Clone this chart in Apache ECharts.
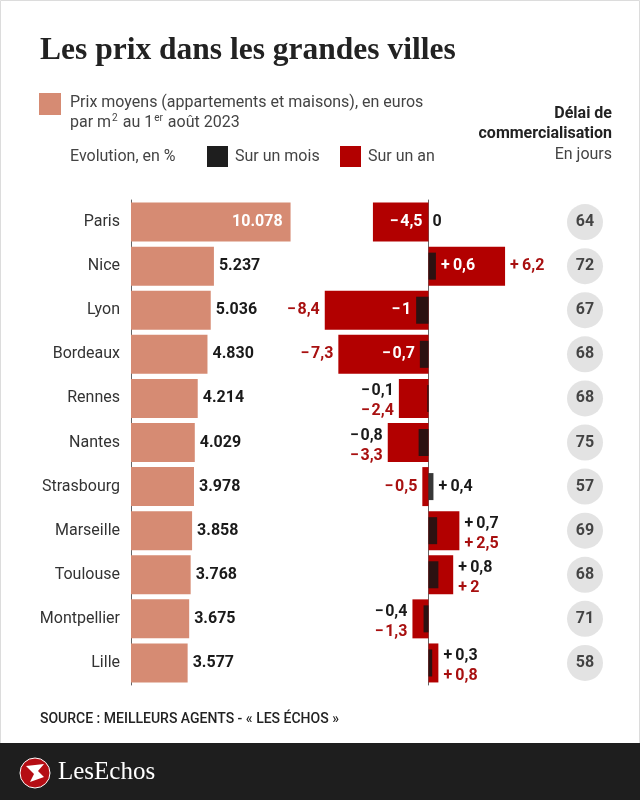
<!DOCTYPE html>
<html>
<head>
<meta charset="utf-8">
<script src="https://cdn.jsdelivr.net/npm/echarts@6/dist/echarts.min.js"></script>
<style>
  html, body { margin: 0; padding: 0; background: #fff; }
  #chart { width: 640px; height: 800px; }
</style>
</head>
<body>
<div id="chart"></div>
<script>
// data
const cities = ['Paris', 'Nice', 'Lyon', 'Bordeaux', 'Rennes', 'Nantes', 'Strasbourg', 'Marseille', 'Toulouse', 'Montpellier', 'Lille'];
const prices = [10078, 5237, 5036, 4830, 4214, 4029, 3978, 3858, 3768, 3675, 3577];
const monthChange = [0, 0.6, -1, -0.7, -0.1, -0.8, 0.4, 0.7, 0.8, -0.4, 0.3];
const yearChange = [-4.5, 6.2, -8.4, -7.3, -2.4, -3.3, -0.5, 2.5, 2, -1.3, 0.8];
const days = [64, 72, 67, 68, 68, 75, 57, 69, 68, 71, 58];

const FONT = 'Roboto, "Noto Sans", sans-serif';
const SALMON = '#d68b73';
const RED = '#b20000';
const RED_TXT = '#a81010';
const DARK = '#1a1a1a';

const fmtPrice = v => String(v).replace(/\B(?=(\d{3})+(?!\d))/g, '.');
const fmtPct = v => v === 0 ? '0' : (v > 0 ? '+\u2009' : '\u2212\u200a') + String(Math.abs(v)).replace('.', ',');

// where the two change labels go, depending on bar sizes and signs
function labelMode(m, y) {
    if (Math.abs(y) >= 4) return m === 0 ? 'yearInside' : 'monthInside';
    if (m * y < 0) return 'split';
    return 'stack';
}

const yearData = yearChange.map((y, i) => {
    const m = monthChange[i];
    const mode = labelMode(m, y);
    const side = y < 0 ? 'left' : 'right';
    let label;
    if (mode === 'yearInside') {
        label = { show: true, position: y < 0 ? 'insideRight' : 'insideLeft', color: '#fff', formatter: fmtPct(y), distance: 6 };
    } else if (mode === 'stack') {
        label = {
            show: true, position: side, distance: 5, offset: [0, 3],
            align: y < 0 ? 'right' : 'left',
            formatter: '{m|' + fmtPct(m) + '}\n{y|' + fmtPct(y) + '}',
            rich: {
                m: { color: DARK, fontFamily: FONT, fontWeight: 'bold', fontSize: 16, lineHeight: 20 },
                y: { color: RED_TXT, fontFamily: FONT, fontWeight: 'bold', fontSize: 16, lineHeight: 20 }
            }
        };
    } else {
        label = { show: true, position: side, color: RED_TXT, formatter: fmtPct(y), distance: 5 };
    }
    return { value: y, label: label };
});

const monthData = monthChange.map((m, i) => {
    const y = yearChange[i];
    const mode = labelMode(m, y);
    let label = { show: false };
    if (mode === 'yearInside') {
        label = { show: true, position: y < 0 ? 'right' : 'left', color: DARK, formatter: fmtPct(m), distance: 4 };
    } else if (mode === 'monthInside') {
        label = { show: true, position: m < 0 ? 'left' : 'right', color: '#fff', formatter: fmtPct(m), distance: 5 };
    } else if (mode === 'split') {
        label = { show: true, position: m < 0 ? 'left' : 'right', color: DARK, formatter: fmtPct(m), distance: 5 };
    }
    return { value: m, label: label };
});

const priceData = prices.map(p => ({
    value: p,
    label: p > 8000
        ? { show: true, position: 'insideRight', color: '#fff', distance: 8 }
        : { show: true, position: 'right', color: DARK, distance: 5 }
}));

const GRID_TOP = 200, GRID_H = 485;

const chart = echarts.init(document.getElementById('chart'));

const txt = (text, x, y, opts) => ({
    type: 'text', silent: true,
    style: Object.assign({
        text: text, x: x, y: y,
        fontFamily: FONT, fontSize: 16, fill: '#444',
        align: 'left', verticalAlign: 'middle',
        textAlign: 'left', textVerticalAlign: 'middle'
    }, opts || {})
});

chart.setOption({
    animation: false,
    backgroundColor: '#fff',
    textStyle: { fontFamily: FONT },
    grid: [
        { left: 131, top: GRID_TOP, width: 190, height: GRID_H },
        { left: 305, top: GRID_TOP, width: 247, height: GRID_H },
        { left: 565, top: GRID_TOP, width: 40, height: GRID_H }
    ],
    xAxis: [
        { gridIndex: 0, type: 'value', min: 0, max: 12000, show: false },
        { gridIndex: 1, type: 'value', min: -10, max: 10, show: false },
        { gridIndex: 2, type: 'category', data: ['Délai'], show: false }
    ],
    yAxis: [
        {
            gridIndex: 0, type: 'category', data: cities, inverse: true,
            axisLine: { show: true, lineStyle: { color: '#666', width: 1 } },
            axisTick: { show: false },
            axisLabel: { margin: 11, fontSize: 16, color: '#333', fontFamily: FONT }
        },
        {
            gridIndex: 1, type: 'category', data: cities, inverse: true,
            axisLine: { show: true, onZero: true, lineStyle: { color: '#666', width: 1 } },
            axisTick: { show: false }, axisLabel: { show: false }
        },
        { gridIndex: 2, type: 'category', data: cities, inverse: true, show: false },
        // second category axis in the change grid so the monthly bars centre on their own
        { gridIndex: 1, type: 'category', data: cities, inverse: true, show: false }
    ],
    series: [
        {
            name: 'Prix', type: 'bar', xAxisIndex: 0, yAxisIndex: 0,
            data: priceData, barWidth: 39,
            itemStyle: { color: SALMON },
            label: { fontFamily: FONT, fontWeight: 'bold', fontSize: 16, formatter: p => fmtPrice(p.value) }
        },
        {
            name: 'Sur un an', type: 'bar', xAxisIndex: 1, yAxisIndex: 1,
            data: yearData, barWidth: 39,
            itemStyle: { color: RED },
            label: { fontFamily: FONT, fontWeight: 'bold', fontSize: 16 }
        },
        {
            name: 'Sur un mois', type: 'bar', xAxisIndex: 1, yAxisIndex: 3,
            data: monthData, barWidth: 27,
            itemStyle: { color: 'rgba(20,20,20,0.85)' },
            label: { fontFamily: FONT, fontWeight: 'bold', fontSize: 16 }
        },
        {
            name: 'Délai', type: 'scatter', xAxisIndex: 2, yAxisIndex: 2,
            data: cities.map((c, i) => ['Délai', c, days[i]]),
            symbolSize: 36,
            itemStyle: { color: '#dcdcdc' },
            label: {
                show: true, position: 'inside', color: DARK,
                fontFamily: FONT, fontWeight: 'bold', fontSize: 16,
                formatter: p => p.value[2]
            }
        }
    ],
    graphic: [
        // frame
        { type: 'rect', silent: true, shape: { x: 0.5, y: 0.5, width: 639, height: 799 }, style: { fill: 'none', stroke: '#dcdcdc', lineWidth: 1 } },
        // title
        txt('Les prix dans les grandes villes', 40, 51, { fontFamily: '"Liberation Serif", serif', fontWeight: 'bold', fontSize: 31.5, fill: '#222' }),
        // legend
        { type: 'rect', silent: true, shape: { x: 39, y: 93, width: 22, height: 22 }, style: { fill: SALMON } },
        txt('Prix moyens (appartements et maisons), en euros', 70, 103),
        txt('{n|par m}{s|2}{n| au 1}{s|er}{n| août 2023}', 70, 123, {
            rich: {
                n: { fontFamily: FONT, fontSize: 16, fill: '#444', lineHeight: 20 },
                s: { fontFamily: FONT, fontSize: 10, fill: '#444', lineHeight: 20, verticalAlign: 'top', padding: [0, 1, 8, 1] }
            }
        }),
        txt('Evolution, en %', 70, 157),
        { type: 'rect', silent: true, shape: { x: 207, y: 146, width: 21, height: 21 }, style: { fill: '#1e1e1e' } },
        txt('Sur un mois', 235, 157),
        { type: 'rect', silent: true, shape: { x: 340, y: 146, width: 21, height: 21 }, style: { fill: RED } },
        txt('Sur un an', 368, 157),
        // right header
        txt('Délai de', 612, 114, { align: 'right', textAlign: 'right', fontWeight: 'bold', fill: '#222' }),
        txt('commercialisation', 612, 134, { align: 'right', textAlign: 'right', fontWeight: 'bold', fill: '#222' }),
        txt('En jours', 612, 155, { align: 'right', textAlign: 'right' }),
        // source
        txt('SOURCE : MEILLEURS AGENTS - \u00ab LES ÉCHOS \u00bb', 40, 719, { fontSize: 14, fontWeight: 500, fill: '#222' }),
        // footer
        { type: 'rect', silent: true, shape: { x: 0, y: 743, width: 640, height: 57 }, style: { fill: '#1e1e1e' } },
        { type: 'circle', silent: true, shape: { cx: 35, cy: 773, r: 15 }, style: { fill: '#b50d14', stroke: '#fff', lineWidth: 1 } },
        { type: 'polygon', silent: true, shape: { points: [[26, 766], [44, 764], [38, 771], [44, 777], [30, 782], [34, 774]] }, style: { fill: '#fff' } },
        txt('LesEchos', 58, 772, { fontFamily: '"Liberation Serif", serif', fontSize: 25, fill: '#fff' })
    ]
});
</script>
</body>
</html>
